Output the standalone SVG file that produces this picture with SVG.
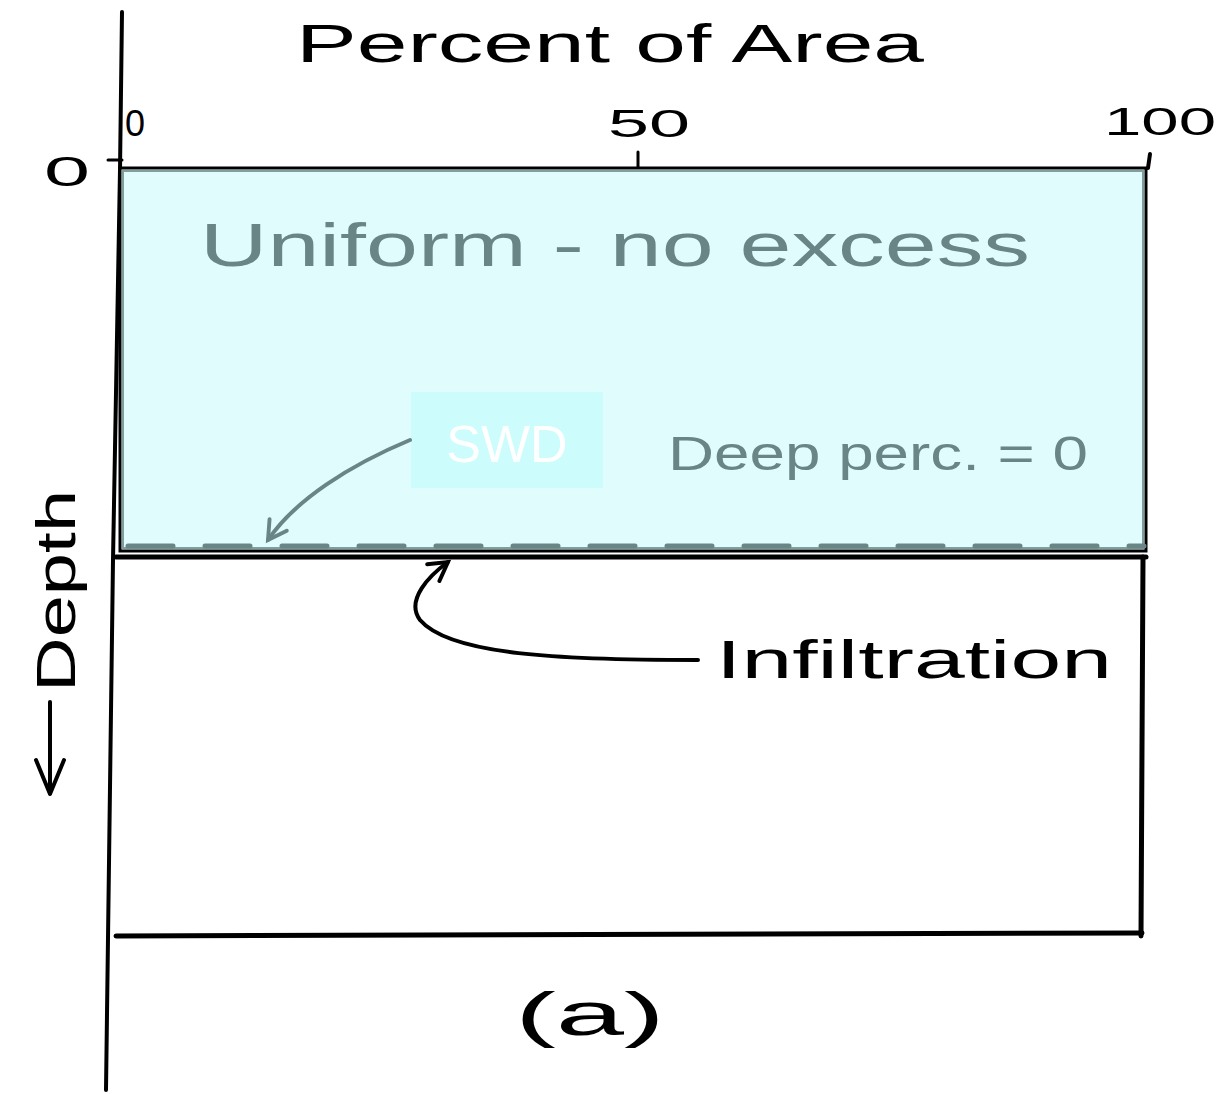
<svg xmlns="http://www.w3.org/2000/svg" width="1217" height="1094" viewBox="0 0 1217 1094">
  <style>
    .ink { fill: none; stroke: #000; stroke-linecap: round; stroke-linejoin: round; }
    .grey { fill: none; stroke: #6a8585; stroke-linecap: round; stroke-linejoin: round; }
    .hand { font-family: "Liberation Sans", "DejaVu Sans", sans-serif; }
    .lblk { fill: #000; }
    .lgrey { fill: #6a8585; }
  </style>
  <defs>
    <marker id="headGrey" viewBox="0 0 20 20" refX="16" refY="10" markerWidth="26" markerHeight="26" markerUnits="userSpaceOnUse" orient="auto">
      <path d="M2,2 L16,10 L2,18" fill="none" stroke="#6a8585" stroke-width="3" stroke-linecap="round"/>
    </marker>
    <marker id="headBlack" viewBox="0 0 20 20" refX="16" refY="10" markerWidth="26" markerHeight="26" markerUnits="userSpaceOnUse" orient="auto">
      <path d="M2,2 L16,10 L2,18" fill="none" stroke="#000" stroke-width="3" stroke-linecap="round"/>
    </marker>
  </defs>

  <rect width="1217" height="1094" fill="#fff"/>

  <!-- axes and frame -->
  <g id="axes">
    <path class="ink" d="M122,12 L120,170 L113,560 L106,1090" stroke-width="4"/>
    <line class="ink" x1="108" y1="160" x2="122" y2="160" stroke-width="3"/>
    <line class="ink" x1="638" y1="152" x2="638" y2="168" stroke-width="3"/>
    <line class="ink" x1="1150" y1="154" x2="1148" y2="168" stroke-width="4"/>
  </g>

  <!-- surface water layer -->
  <g id="swd-layer">
    <rect x="120" y="168" width="1026" height="383" fill="#e0fcfc" stroke="#000" stroke-width="3"/>
    <rect x="123" y="171" width="1020" height="377" fill="none" stroke="#6a8585" stroke-width="2" opacity="0.8"/>
  </g>

  <!-- wetted soil boundary -->
  <g id="wetting-front">
    <line class="grey" x1="128" y1="546" x2="1144" y2="546" stroke-width="5" stroke-dasharray="45,32"/>
  </g>

  <!-- lower soil column -->
  <g id="soil-column">
    <line class="ink" x1="116" y1="557" x2="1146" y2="557" stroke-width="5"/>
    <line class="ink" x1="1143" y1="557" x2="1141" y2="936" stroke-width="5"/>
    <line class="ink" x1="116" y1="936" x2="1142" y2="933" stroke-width="5"/>
  </g>

  <!-- tick labels and axis titles -->
  <g id="axis-labels" class="hand lblk">
    <text x="296" y="62" font-size="54" textLength="628" lengthAdjust="spacingAndGlyphs">Percent of Area</text>
    <text x="125" y="136" font-size="36">0</text>
    <text x="608" y="137" font-size="38" textLength="82" lengthAdjust="spacingAndGlyphs">50</text>
    <text x="1104" y="135" font-size="38" textLength="112" lengthAdjust="spacingAndGlyphs">100</text>
    <text x="44" y="186" font-size="42" textLength="46" lengthAdjust="spacingAndGlyphs">0</text>
    <text transform="translate(75,692) rotate(-90)" font-size="56" textLength="202" lengthAdjust="spacingAndGlyphs">Depth</text>
    <text x="515" y="1035" font-size="62" textLength="150" lengthAdjust="spacingAndGlyphs">(a)</text>
  </g>

  <!-- downward depth arrow -->
  <g id="depth-arrow">
    <line class="ink" x1="50" y1="702" x2="50" y2="792" stroke-width="4"/>
    <path class="ink" d="M36,760 L50,794 L64,760" stroke-width="4"/>
  </g>

  <!-- labels inside the water layer -->
  <g id="layer-labels" class="hand lgrey">
    <text x="200" y="266" font-size="62" textLength="830" lengthAdjust="spacingAndGlyphs">Uniform - no excess</text>
    <text x="668" y="470" font-size="48" textLength="420" lengthAdjust="spacingAndGlyphs">Deep perc. = 0</text>
  </g>

  <g id="swd-label">
    <rect x="411" y="392" width="192" height="96" fill="#ccfcfc"/>
    <text x="507" y="462" font-size="52" text-anchor="middle" fill="#fff" font-family="Liberation Sans, Arial, sans-serif">SWD</text>
  </g>

  <g id="infiltration-label" class="hand lblk">
    <text x="716" y="678" font-size="54" textLength="396" lengthAdjust="spacingAndGlyphs">Infiltration</text>
  </g>

  <!-- connectors -->
  <g id="connectors">
    <path class="grey" d="M410,440 C350,465 295,500 268,540" stroke-width="4" marker-end="url(#headGrey)"/>
    <path class="ink" d="M698,660 C560,660 450,655 420,620 C405,600 430,575 448,562" stroke-width="4" marker-end="url(#headBlack)"/>
  </g>
</svg>
